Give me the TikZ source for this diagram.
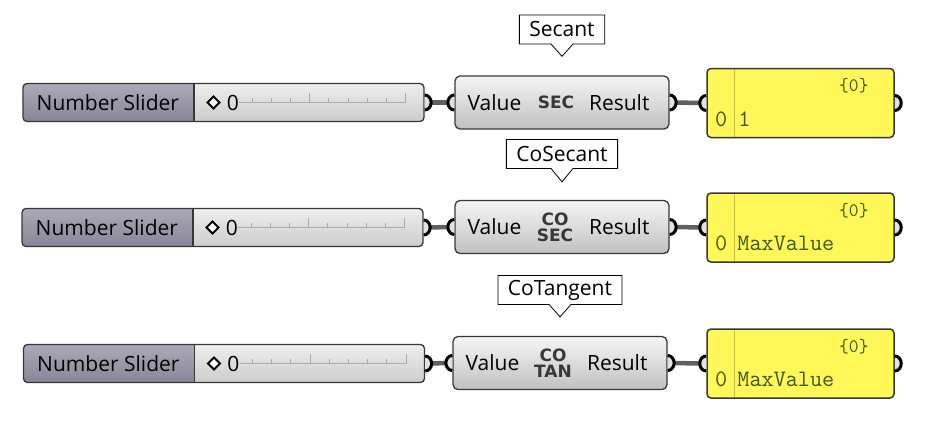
\documentclass[tikz,border=0pt]{standalone}
\usepackage{fontspec}
\setmainfont{Open Sans}
\newfontfamily\iconfont{DejaVu Sans}
\usetikzlibrary{positioning, shapes.callouts}
\definecolor{ghborder}{RGB}{55,55,55}
\definecolor{labeltop}{RGB}{172,170,184}
\definecolor{labelbottom}{RGB}{136,134,150}
\definecolor{slidertop}{RGB}{238,238,238}
\definecolor{sliderbottom}{RGB}{204,204,204}
\definecolor{tracktick}{RGB}{170,170,170}
\definecolor{comptop}{RGB}{245,245,245}
\definecolor{compmid}{RGB}{226,226,226}
\definecolor{compbottom}{RGB}{192,192,192}
\definecolor{panelhead}{RGB}{216,211,82}
\definecolor{panelbody}{RGB}{255,248,88}
\definecolor{panelline}{RGB}{196,190,60}
\definecolor{paneltext}{RGB}{62,88,24}
\definecolor{wiregray}{RGB}{96,96,96}
\tikzset{
    x=1pt, y=-1pt,
    ghtext/.style={font=\fontsize{21}{24}\selectfont, inner sep=0pt},
    slider/.style={
        rectangle, rounded corners=4pt, draw=ghborder, line width=1.3pt,
        top color=slidertop, bottom color=sliderbottom,
        minimum width=401pt, minimum height=38pt, inner sep=0pt,
        path picture={
            \shade[sharp corners, top color=labeltop, bottom color=labelbottom]
                (path picture bounding box.south west) rectangle ([xshift=171pt]path picture bounding box.north west);
            \draw[ghborder, line width=1.2pt]
                ([xshift=171pt]path picture bounding box.south west) -- ([xshift=171pt]path picture bounding box.north west);
            % track and ticks
            \draw[tracktick, line width=0.8pt]
                ([xshift=216pt]path picture bounding box.west) -- ([xshift=382.5pt]path picture bounding box.west);
            \foreach \i in {2,3,4,6,7,8,9}
                \draw[tracktick, line width=0.8pt] ([xshift={(190.5+19.2*\i)*1pt}]path picture bounding box.west) -- ++(0,5pt);
            \foreach \i in {5,10}
                \draw[tracktick, line width=0.8pt] ([xshift={(190.5+19.2*\i)*1pt}]path picture bounding box.west) -- ++(0,10pt);
            % value marker
            \draw[sharp corners, black, line width=2pt, line join=miter, fill=white]
                ([xshift=190.5pt, yshift=6pt]path picture bounding box.west)
                -- ++(6pt,-6pt) -- ++(-6pt,-6pt) -- ++(-6pt,6pt) -- cycle;
        }
    },
    component/.style={
        rectangle, rounded corners=5pt, draw=ghborder, line width=1.3pt,
        top color=comptop, middle color=compmid, bottom color=compbottom,
        minimum width=214pt, minimum height=53pt, inner sep=0pt,
    },
    icon/.style={font=\iconfont\bfseries\fontsize{17}{16}\selectfont, text=black!78, align=center, inner sep=0pt},
    tooltip/.style={
        rectangle callout, draw=black, fill=white, line width=0.8pt,
        font=\fontsize{21}{24}\selectfont, inner xsep=10pt, inner ysep=0pt,
        minimum height=29pt, callout pointer width=22pt,
    },
    panel/.style={
        rectangle, rounded corners=4pt, draw=ghborder, line width=1.5pt,
        fill=panelbody, minimum width=187pt, minimum height=69pt, inner sep=0pt,
        path picture={
            \fill[sharp corners, panelhead] (path picture bounding box.north west) rectangle ([yshift=-36pt]path picture bounding box.north east);
            \draw[panelline, line width=0.8pt]
                ([xshift=27pt]path picture bounding box.north west) -- ([xshift=27pt]path picture bounding box.south west);
        }
    },
    paneltext/.style={font=\ttfamily\fontsize{23.5}{24}\selectfont, text=paneltext, inner sep=0pt},
    panelhead/.style={font=\ttfamily\fontsize{19}{20}\selectfont, text=paneltext, inner sep=0pt},
    wire/.style={draw=wiregray, line width=4.5pt},
    port/.style={draw=black, fill=compmid, line width=3pt},
}
\begin{document}
\begin{tikzpicture}
    \useasboundingbox (0,0) rectangle (925,423);

    % Nodes
    \node[slider] (S1) at (223.5,102.5) {};
    \node[slider] (S2) at (222.5,227.5) {};
    \node[slider] (S3) at (224,363.5) {};
    \node[component] (F1) at (562,102.5) {};
    \node[component] (F2) at (562,227) {};
    \node[component] (F3) at (560,363) {};
    \node[panel] (P1) at (800.5,103) {};
    \node[panel] (P2) at (800.5,227.5) {};
    \node[panel] (P3) at (800.5,363.5) {};

    % Slider texts
    \node[ghtext] at ([xshift=85.5pt]S1.west) {Number Slider};
    \node[ghtext] at ([xshift=210.5pt]S1.west) {0};
    \node[ghtext] at ([xshift=85.5pt]S2.west) {Number Slider};
    \node[ghtext] at ([xshift=210.5pt]S2.west) {0};
    \node[ghtext] at ([xshift=85.5pt]S3.west) {Number Slider};
    \node[ghtext] at ([xshift=210.5pt]S3.west) {0};

    % Component texts
    \node[ghtext, anchor=west] at ([xshift=13pt]F1.west) {Value};
    \node[ghtext, anchor=east] at ([xshift=-20pt]F1.east) {Result};
    \node[icon] at ([xshift=-6pt]F1.center) {SEC};
    \node[ghtext, anchor=west] at ([xshift=13pt]F2.west) {Value};
    \node[ghtext, anchor=east] at ([xshift=-20pt]F2.east) {Result};
    \node[icon] at ([xshift=-7pt]F2.center) {CO\\SEC};
    \node[ghtext, anchor=west] at ([xshift=13pt]F3.west) {Value};
    \node[ghtext, anchor=east] at ([xshift=-20pt]F3.east) {Result};
    \node[icon] at ([xshift=-7pt]F3.center) {CO\\TAN};

    % Tooltips
    \node[tooltip, above=31pt of F1, callout absolute pointer={([yshift=19pt]F1.north)}] (T1) {Secant};
    \node[tooltip, above=31pt of F2, callout absolute pointer={([yshift=18pt]F2.north)}] (T2) {CoSecant};
    \node[tooltip, above=31pt of F3, callout absolute pointer={([yshift=19pt]F3.north)}] (T3) {CoTangent};

    % Panel texts
    \node[panelhead, anchor=east] at ([xshift=-26pt, yshift=-18pt]P1.north east) {\{0\}};
    \node[paneltext] at ([xshift=15pt, yshift=-16pt]P1.west) {0};
    \node[paneltext, anchor=west] at ([xshift=32pt, yshift=-16pt]P1.west) {1};
    \node[panelhead, anchor=east] at ([xshift=-26pt, yshift=-18pt]P2.north east) {\{0\}};
    \node[paneltext] at ([xshift=15pt, yshift=-16pt]P2.west) {0};
    \node[paneltext, anchor=west] at ([xshift=31pt, yshift=-16pt]P2.west) {MaxValue};
    \node[panelhead, anchor=east] at ([xshift=-26pt, yshift=-18pt]P3.north east) {\{0\}};
    \node[paneltext] at ([xshift=15pt, yshift=-16pt]P3.west) {0};
    \node[paneltext, anchor=west] at ([xshift=31pt, yshift=-16pt]P3.west) {MaxValue};

    % Draw wires
    \draw[wire] ([xshift=7pt]S1.east) -- ([xshift=-7pt]F1.west);
    \draw[wire] ([xshift=7pt]F1.east) -- ([xshift=-7pt]P1.west);
    \draw[wire] ([xshift=7pt]S2.east) -- ([xshift=-7pt]F2.west);
    \draw[wire] ([xshift=7pt]F2.east) -- ([xshift=-7pt]P2.west);
    \draw[wire] ([xshift=7pt]S3.east) -- ([xshift=-7pt]F3.west);
    \draw[wire] ([xshift=7pt]F3.east) -- ([xshift=-7pt]P3.west);

    % Ports
    \foreach \n in {S1,S2,S3,F1,F2,F3,P1,P2,P3}
        \draw[port] ([yshift=7.5pt]\n.east) arc[start angle=90, end angle=-90, x radius=6.5pt, y radius=7.5pt];
    \foreach \n in {F1,F2,F3,P1,P2,P3}
        \draw[port] ([yshift=7.5pt]\n.west) arc[start angle=90, end angle=270, x radius=6.5pt, y radius=7.5pt];
\end{tikzpicture}
\end{document}
